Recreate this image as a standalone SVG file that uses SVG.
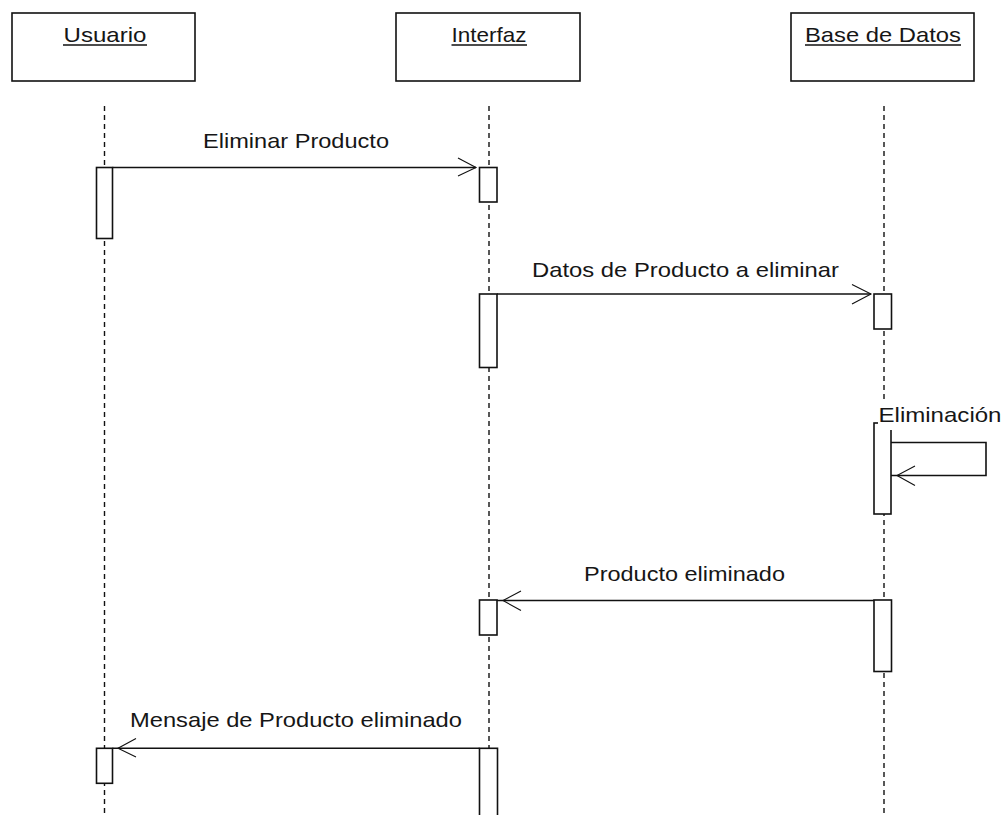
<svg xmlns="http://www.w3.org/2000/svg" width="1002" height="815" viewBox="0 0 1002 815">
  <style>
    .obj { fill: #fff; stroke: #111; stroke-width: 1.6; }
    .act { fill: #fff; stroke: #111; stroke-width: 1.6; }
    .life { stroke: #111; stroke-width: 1.4; stroke-dasharray: 5 4; fill: none; }
    .msg { stroke: #111; stroke-width: 1.6; fill: none; }
    .head { stroke: #111; stroke-width: 1.1; fill: none; }
    .ul { stroke: #111; stroke-width: 1.3; }
    text { font-family: "Liberation Sans", Arial, sans-serif; font-size: 21px; fill: #161616; }
    .name { text-anchor: middle; }
  </style>

  <!-- lifelines -->
  <g id="lifelines">
    <line class="life" x1="104.5" y1="106" x2="104.5" y2="815"/>
    <line class="life" x1="489" y1="106" x2="489" y2="815"/>
    <line class="life" x1="884" y1="106" x2="884" y2="815"/>
  </g>

  <!-- participants -->
  <g id="usuario">
    <rect class="obj" x="12" y="13" width="183" height="68"/>
    <text class="name" x="105" y="42" textLength="83" lengthAdjust="spacingAndGlyphs">Usuario</text>
    <line class="ul" x1="63" y1="45" x2="147" y2="45"/>
  </g>
  <g id="interfaz">
    <rect class="obj" x="396" y="13" width="184" height="68"/>
    <text class="name" x="489" y="42" textLength="75" lengthAdjust="spacingAndGlyphs">Interfaz</text>
    <line class="ul" x1="451.5" y1="45" x2="527" y2="45"/>
  </g>
  <g id="base-de-datos">
    <rect class="obj" x="791" y="13" width="183" height="68"/>
    <text class="name" x="883" y="42" textLength="156" lengthAdjust="spacingAndGlyphs">Base de Datos</text>
    <line class="ul" x1="805" y1="45" x2="961" y2="45"/>
  </g>

  <!-- activation bars -->
  <g id="activations">
    <rect class="act" x="96.5" y="167.5" width="16" height="71"/>
    <rect class="act" x="479.5" y="167.5" width="17.5" height="34.5"/>
    <rect class="act" x="479.5" y="294" width="17.5" height="73.5"/>
    <rect class="act" x="874" y="294" width="17.5" height="35"/>
    <rect class="act" x="874" y="423" width="17" height="91"/>
    <rect class="act" x="479.5" y="600" width="17.5" height="35"/>
    <rect class="act" x="874" y="600" width="17.5" height="71.5"/>
    <rect class="act" x="96.5" y="748.3" width="16" height="35"/>
    <rect class="act" x="479.5" y="748.3" width="18" height="80"/>
  </g>

  <!-- messages -->
  <g id="connectors">
    <!-- Eliminar Producto -->
    <line class="msg" x1="112.5" y1="167.5" x2="476" y2="167.5"/>
    <polyline class="head" points="458,158 476,167.5 458,176"/>
    <!-- Datos de Producto a eliminar -->
    <line class="msg" x1="497" y1="294" x2="871" y2="294"/>
    <polyline class="head" points="852,284.5 871,294 852,304"/>
    <!-- Eliminación (self call) -->
    <polyline class="msg" points="891,442.5 986,442.5 986,475.5 891,475.5"/>
    <polyline class="head" points="915,466 897,475.5 915,485.5"/>
    <!-- Producto eliminado -->
    <line class="msg" x1="874" y1="600.5" x2="497" y2="600.5"/>
    <polyline class="head" points="521,591 503,600.5 521,610.5"/>
    <!-- Mensaje de Producto eliminado -->
    <line class="msg" x1="479.5" y1="748.3" x2="112.5" y2="748.3"/>
    <polyline class="head" points="136,738.5 118,748.3 136,757"/>
  </g>

  <!-- message labels -->
  <g id="labels">
    <text x="203" y="148" textLength="186" lengthAdjust="spacingAndGlyphs">Eliminar Producto</text>
    <text x="532" y="277" textLength="307" lengthAdjust="spacingAndGlyphs">Datos de Producto a eliminar</text>
    <rect x="878" y="403" width="124" height="27" fill="#fff"/>
    <text x="878.5" y="422" textLength="123" lengthAdjust="spacingAndGlyphs">Eliminación</text>
    <text x="584" y="581" textLength="201" lengthAdjust="spacingAndGlyphs">Producto eliminado</text>
    <text x="130" y="727" textLength="332" lengthAdjust="spacingAndGlyphs">Mensaje de Producto eliminado</text>
  </g>
</svg>
